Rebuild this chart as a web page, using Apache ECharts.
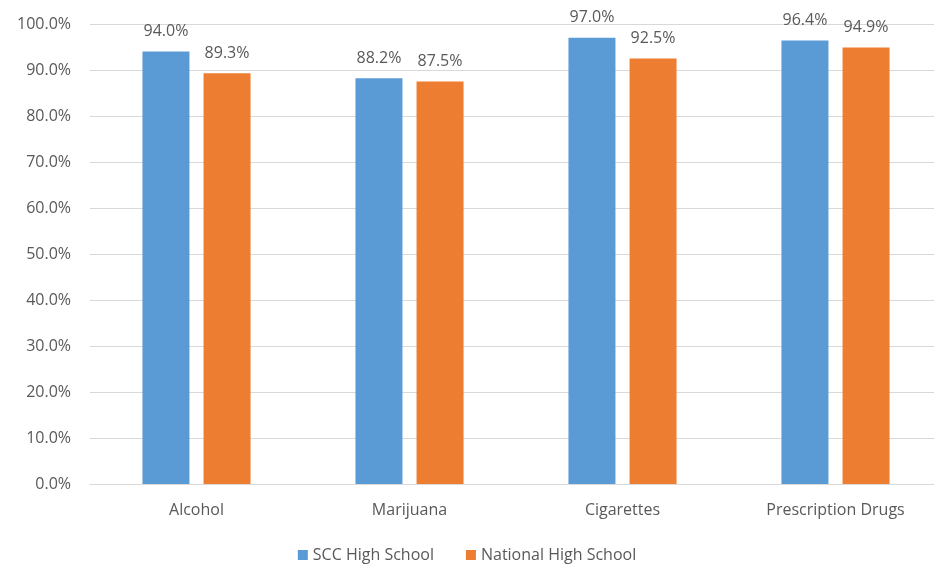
<!DOCTYPE html>
<html>
<head>
<meta charset="utf-8">
<script src="https://cdn.jsdelivr.net/npm/echarts@6/dist/echarts.min.js"></script>
<style>html,body{margin:0;padding:0;background:#fff}#c{width:934px;height:565px}</style>
</head>
<body>
<div id="c"></div>
<script>
const categories = ['Alcohol', 'Marijuana', 'Cigarettes', 'Prescription Drugs'];
const sccValues = [94.0, 88.2, 97.0, 96.4];
const nationalValues = [89.3, 87.5, 92.5, 94.9];
const seriesNames = ['SCC High School', 'National High School'];

const font = '"Open Sans", sans-serif';
const chart = echarts.init(document.getElementById('c'));
chart.setOption({
  animation: false,
  textStyle: { fontFamily: font },
  grid: { left: 90, top: 24, width: 852, bottom: 81, outerBoundsMode: 'none', containLabel: false },
  legend: {
    top: 542, left: 'center',
    itemWidth: 10, itemHeight: 10, itemGap: 32,
    icon: 'rect',
    textStyle: { color: '#595959', fontSize: 16, fontFamily: font },
    data: seriesNames
  },
  xAxis: {
    type: 'category', data: categories,
    axisLine: { lineStyle: { color: '#d9d9d9' } },
    axisTick: { show: false },
    axisLabel: { color: '#595959', fontSize: 16, margin: 18, fontFamily: font }
  },
  yAxis: {
    type: 'value', min: 0, max: 100, interval: 10,
    axisLabel: { color: '#595959', fontSize: 16, margin: 19, fontFamily: font, formatter: v => v.toFixed(1) + '%' },
    splitLine: { lineStyle: { color: '#d9d9d9' } },
    axisLine: { show: false }, axisTick: { show: false }
  },
  series: [
    { name: seriesNames[0], type: 'bar', data: sccValues, barWidth: 47, barGap: '30%',
      itemStyle: { color: '#5b9bd5' },
      label: { show: true, position: 'top', distance: 12, color: '#595959', fontSize: 16, fontFamily: font, formatter: p => p.value.toFixed(1) + '%' } },
    { name: seriesNames[1], type: 'bar', data: nationalValues, barWidth: 47,
      itemStyle: { color: '#ed7d31' },
      label: { show: true, position: 'top', distance: 12, color: '#595959', fontSize: 16, fontFamily: font, formatter: p => p.value.toFixed(1) + '%' } }
  ]
});
</script>
</body>
</html>
